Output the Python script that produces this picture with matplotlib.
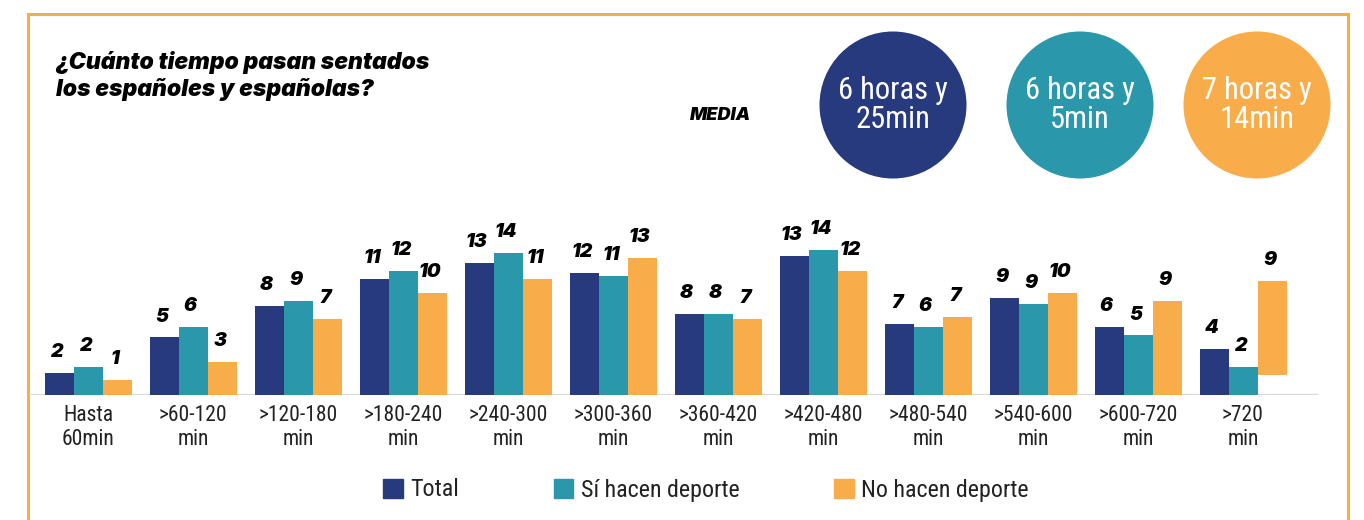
import matplotlib
matplotlib.use("Agg")
import matplotlib.pyplot as plt
from matplotlib.patches import Circle, Patch
import numpy as np

# ---------------- data ----------------
categories = ["Hasta\n60min", ">60-120\nmin", ">120-180\nmin", ">180-240\nmin",
              ">240-300\nmin", ">300-360\nmin", ">360-420\nmin", ">420-480\nmin",
              ">480-540\nmin", ">540-600\nmin", ">600-720\nmin", ">720\nmin"]
series_names = ["Total", "Sí hacen deporte", "No hacen deporte"]
total = [2.1, 5.6, 8.7, 11.3, 12.9, 11.9, 7.9, 13.6, 6.9, 9.5, 6.6, 4.5]
si_deporte = [2.7, 6.6, 9.2, 12.1, 13.9, 11.6, 7.9, 14.2, 6.6, 8.9, 5.8, 2.7]
no_deporte = [1.4, 3.2, 7.4, 10.0, 11.3, 13.4, 7.4, 12.1, 7.6, 10.0, 9.2, 9.2]
no_deporte_base = [0, 0, 0, 0, 0, 0, 0, 0, 0, 0, 0, 1.9]
total_labels = [2, 5, 8, 11, 13, 12, 8, 13, 7, 9, 6, 4]
si_labels = [2, 6, 9, 12, 14, 11, 8, 14, 6, 9, 5, 2]
no_labels = [1, 3, 7, 10, 11, 13, 7, 12, 7, 10, 9, 9]
medias = ["6 horas y\n25min", "6 horas y\n5min", "7 horas y\n14min"]
title_lines = ["¿Cuánto tiempo pasan sentados", "los españoles y españolas?"]

# ---------------- style ----------------
NAVY = "#283A7E"
TEAL = "#2A98AA"
ORANGE = "#F9AD4A"
W, H = 1364, 520
COND = ["Roboto Condensed", "DejaVu Sans"]
HEAVY = ["Inter", "DejaVu Sans"]

fig = plt.figure(figsize=(W / 100, H / 100), dpi=100)
fig.patch.set_facecolor("white")

# background / decoration axes in pixel units
bg = fig.add_axes([0, 0, 1, 1])
bg.set_xlim(0, W)
bg.set_ylim(H, 0)
bg.axis("off")
bg.plot([27.5, 27.5, 1347.5, 1347.5], [H + 5, 13.5, 13.5, H + 5],
        color=ORANGE, lw=2.2, solid_joinstyle="miter", clip_on=False)

for k, line in enumerate(title_lines):
    bg.text(56, 62 + 27.5 * k, line, ha="left", va="center", fontsize=16.5,
            family=HEAVY, weight=900, style="italic", color="black")
bg.text(721, 116, "MEDIA", ha="center", va="center", fontsize=13, family=HEAVY,
        weight=900, style="italic", color="black")

circle_x = [893, 1080, 1257]
circle_c = [NAVY, TEAL, ORANGE]
for cx, cc, txt in zip(circle_x, circle_c, medias):
    bg.add_patch(Circle((cx, 105), 73.5, color=cc, lw=0))
    bg.text(cx, 105, txt, ha="center", va="center", fontsize=22, family=COND,
            color="white", linespacing=1.02)

# ---------------- bar chart ----------------
pitch = 105.0
x0_px = 88.0
left_px, right_px = 29.0, 1318.0
base_px = 394.5
unit_px = 10.2
ymax = 15.0
ax = fig.add_axes([left_px / W, (H - base_px) / H, (right_px - left_px) / W,
                   unit_px * ymax / H])
ax.set_facecolor("none")
x = np.arange(len(categories))
w = 29.0 / pitch
ax.bar(x - w, total, w, color=NAVY, label=series_names[0])
ax.bar(x, si_deporte, w, color=TEAL, label=series_names[1])
ax.bar(x + w, no_deporte, w, bottom=no_deporte_base, color=ORANGE,
       label=series_names[2])
ax.set_xlim(-(x0_px - left_px) / pitch, (right_px - x0_px) / pitch)
ax.set_ylim(0, ymax)

lab_kw = dict(textcoords="offset points", ha="center", va="center",
              fontsize=14, family=HEAVY, weight=900, style="italic",
              annotation_clip=False)
for i in range(len(categories)):
    ax.annotate(str(total_labels[i]), (x[i] - w, total[i]), xytext=(-1.5, 15), **lab_kw)
    ax.annotate(str(si_labels[i]), (x[i], si_deporte[i]), xytext=(-1.5, 15), **lab_kw)
    ax.annotate(str(no_labels[i]), (x[i] + w, no_deporte[i] + no_deporte_base[i]),
                xytext=(-1.5, 15), **lab_kw)

for s in ax.spines.values():
    s.set_visible(False)
ax.axhline(0, color="#D9D9D9", lw=1.6, zorder=0.5)
ax.set_yticks([])
ax.set_xticks(x)
ax.set_xticklabels(categories, fontsize=15.5, family=COND, color="#222222",
                   linespacing=1.2)
ax.tick_params(axis="x", length=0, pad=7.5)

# legend
handles = [Patch(color=c) for c in (NAVY, TEAL, ORANGE)]
fig.legend(handles, series_names, loc="center", ncol=3,
           bbox_to_anchor=(706 / W, 1 - 490 / H), frameon=False,
           prop={"family": COND, "size": 17.3},
           handlelength=0.82, handleheight=0.82, handletextpad=0.3,
           columnspacing=3.95, labelcolor="#222222")

fig.savefig("out.png", dpi=100, facecolor="white")
